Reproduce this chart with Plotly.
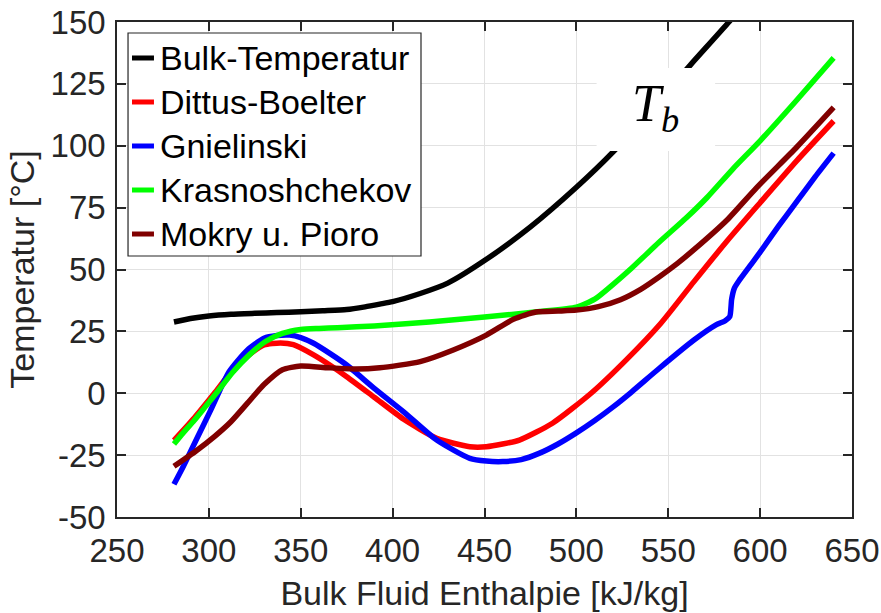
import plotly.graph_objects as go

# Bulk fluid temperature and wall temperatures from different heat-transfer correlations
bulk_h = [281, 290, 300, 312, 325, 337, 350, 362, 375, 385, 393, 400, 415, 430, 450, 475, 500, 520, 540, 562, 583, 592]
bulk_t = [28.8, 30.2, 31.2, 31.9, 32.3, 32.6, 32.9, 33.3, 33.8, 34.9, 36.0, 37.0, 40.3, 44.5, 53.6, 67.2, 83.2, 97.5, 114.0, 132.6, 150.0, 158.0]

dittus_h = [281, 292, 303, 312, 321, 330, 339, 346, 357, 366, 375, 390, 406, 424, 442, 451, 469, 487, 508, 527, 546, 564, 582, 600, 620, 640]
dittus_t = [-19.0, -10.0, 0.0, 8.5, 15.0, 19.5, 20.3, 19.6, 15.5, 11.3, 6.7, -1.6, -10.5, -18.2, -21.6, -21.6, -18.9, -12.1, 0.0, 13.4, 28.3, 45.1, 61.5, 77.0, 94.0, 110.0]

gniel_h = [281, 286, 293, 301, 311, 321, 330, 337, 344, 350, 357, 366, 375, 390, 406, 424, 442, 451, 460, 470, 480, 490, 500, 510, 520, 530, 545, 564, 576, 581, 583.5, 584.5, 586, 589, 595, 600, 610, 620, 630, 640]
gniel_t = [-36.8, -29.7, -19.0, -6.8, 8.7, 17.5, 22.2, 23.3, 23.5, 22.5, 20.2, 16.0, 11.4, 2.0, -7.5, -18.9, -26.3, -27.4, -27.6, -26.8, -24.2, -20.5, -16.0, -11.0, -5.5, 0.5, 10.0, 21.5, 27.6, 29.3, 31.0, 38.0, 42.5, 46.0, 52.0, 57.0, 67.5, 77.5, 87.5, 97.0]

krasno_h = [281, 286, 292, 298, 304, 313, 322, 331, 340, 350, 360, 370, 390, 420, 450, 480, 500, 510, 520, 530, 545, 560, 571, 585, 600, 620, 640]
krasno_t = [-20.5, -16.0, -11.0, -5.5, 0.0, 8.5, 15.5, 21.0, 24.2, 25.8, 26.2, 26.5, 27.2, 28.8, 30.8, 33.0, 34.8, 38.0, 44.0, 50.5, 61.0, 71.0, 79.0, 90.5, 102.0, 118.5, 135.5]

mokry_h = [281, 293, 303, 312, 321, 330, 340, 350, 365, 380, 393, 415, 433, 451, 466, 478, 490, 500, 512, 524, 535, 545, 555, 564, 582, 598, 620, 640]
mokry_t = [-29.5, -23.3, -17.5, -11.5, -4.0, 3.5, 9.5, 11.0, 10.3, 9.8, 10.3, 12.8, 17.5, 23.5, 30.0, 32.8, 33.2, 33.6, 35.0, 37.8, 42.0, 47.0, 52.5, 58.0, 70.0, 83.0, 99.5, 115.5]

series = [
    ("Bulk-Temperatur", bulk_h, bulk_t, "#000000"),
    ("Dittus-Boelter", dittus_h, dittus_t, "#ff0000"),
    ("Gnielinski", gniel_h, gniel_t, "#0000ff"),
    ("Krasnoshchekov", krasno_h, krasno_t, "#00ff00"),
    ("Mokry u. Pioro", mokry_h, mokry_t, "#800000"),
]

x_ticks = [250, 300, 350, 400, 450, 500, 550, 600, 650]
y_ticks = [-50, -25, 0, 25, 50, 75, 100, 125, 150]

axis_color = "#262626"
font_family = "Liberation Sans, Arial, sans-serif"

fig = go.Figure()
for name, h, t, color in series:
    fig.add_trace(go.Scatter(
        x=h, y=t, name=name, mode="lines", showlegend=False,
        line=dict(color=color, width=5.5, shape="spline", smoothing=0.6),
    ))

# White label box for the bulk temperature curve
fig.add_shape(type="rect", xref="x", yref="y", x0=511, x1=575.5, y0=97.9, y1=131.4,
              fillcolor="white", line=dict(width=0), layer="above")
fig.add_annotation(x=543.3, y=115.5, xref="x", yref="y", showarrow=False,
                   text="<i>T</i><sub><i>b</i></sub>",
                   font=dict(family="Liberation Serif, Times New Roman, serif", size=52, color="black"))

# Boxed legend in the upper-left corner of the axes (paper coordinates)
leg_x0, leg_x1 = 0.0150, 0.4136
leg_y0, leg_y1 = 0.5273, 0.9778
row_top, row_step = 0.9273, 0.0889
fig.add_shape(type="rect", xref="paper", yref="paper", x0=leg_x0, x1=leg_x1, y0=leg_y0, y1=leg_y1,
              fillcolor="white", line=dict(color=axis_color, width=1.2), layer="above")
for i, (name, _, _, color) in enumerate(series):
    yy = row_top - i * row_step
    fig.add_shape(type="line", xref="paper", yref="paper", x0=0.0204, x1=0.0503, y0=yy, y1=yy,
                  line=dict(color=color, width=5), layer="above")
    fig.add_annotation(x=0.0558, y=yy, xref="paper", yref="paper", showarrow=False,
                       text=name, xanchor="left", yanchor="middle",
                       font=dict(family=font_family, size=34, color="black"))

common_axis = dict(
    showgrid=True, gridcolor="#e2e2e2", gridwidth=1,
    showline=True, linecolor=axis_color, linewidth=1.5, mirror="ticks",
    ticks="inside", ticklen=9, tickwidth=1.5, tickcolor=axis_color,
    tickfont=dict(family=font_family, size=33, color=axis_color),
    zeroline=False, automargin=False,
)

fig.update_layout(
    width=881, height=613,
    margin=dict(l=117, r=29, t=22, b=96),
    paper_bgcolor="white", plot_bgcolor="white",
    font=dict(family=font_family, color=axis_color),
    xaxis=dict(range=[250, 650], tickvals=x_ticks, ticktext=[str(v) for v in x_ticks],
               title=dict(text="Bulk Fluid Enthalpie [kJ/kg]", font=dict(size=34, color=axis_color), standoff=13),
               ticklabelstandoff=4, **common_axis),
    yaxis=dict(range=[-50, 150], tickvals=y_ticks, ticktext=[str(v) for v in y_ticks],
               title=dict(text="Temperatur [°C]", font=dict(size=34, color=axis_color), standoff=6),
               ticklabelstandoff=3, **common_axis),
    showlegend=False,
)

fig.write_html("out.html")
